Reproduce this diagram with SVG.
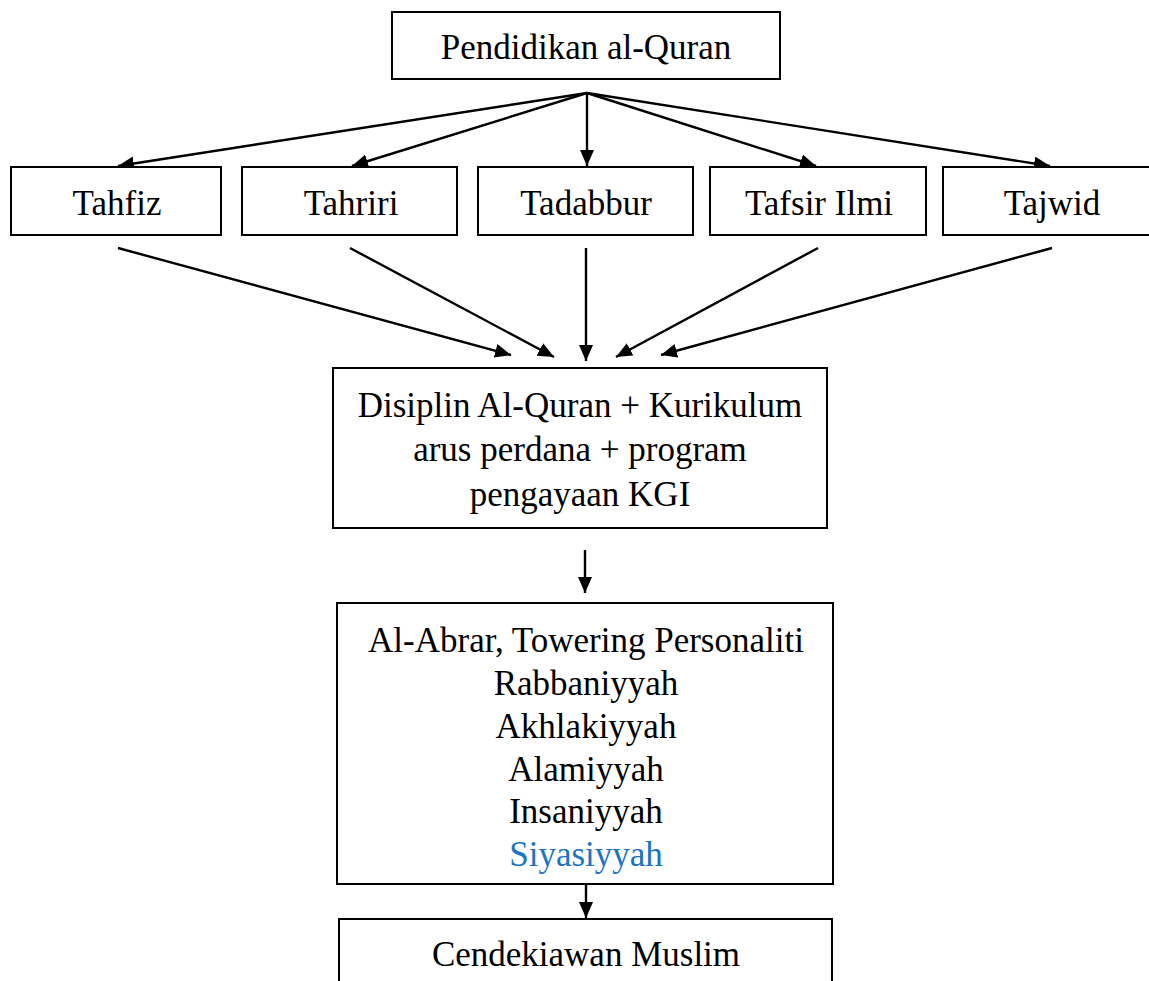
<svg xmlns="http://www.w3.org/2000/svg" width="1149" height="981" viewBox="0 0 1149 981">
<style>
.box{fill:#fff;stroke:#000;stroke-width:2}
.t{font-family:"Liberation Serif","Times New Roman",serif;font-size:35px;fill:#000;text-anchor:middle}
.blue{fill:#1C74C2}
.c{stroke:#000;stroke-width:2.4;fill:none;marker-end:url(#ah)}
</style>
<defs>
<marker id="ah" markerUnits="userSpaceOnUse" markerWidth="17" markerHeight="15" refX="16" refY="7" orient="auto">
<path d="M0,0 L16,7 L0,14 z" fill="#000"/>
</marker>
</defs>
<rect width="1149" height="981" fill="#fff"/>
<g id="connectors">
<line class="c" x1="587" y1="93" x2="118" y2="166"/>
<line class="c" x1="587" y1="93" x2="352" y2="166"/>
<line class="c" x1="587" y1="93" x2="587" y2="166"/>
<line class="c" x1="587" y1="93" x2="816" y2="166"/>
<line class="c" x1="587" y1="93" x2="1050" y2="166"/>
<line class="c" x1="118" y1="248" x2="511" y2="355"/>
<line class="c" x1="350" y1="248" x2="554" y2="357"/>
<line class="c" x1="586" y1="248" x2="586" y2="361"/>
<line class="c" x1="818" y1="248" x2="616" y2="357"/>
<line class="c" x1="1052" y1="248" x2="661" y2="355"/>
<line class="c" x1="585" y1="550" x2="585" y2="593"/>
<line class="c" x1="586" y1="884" x2="586" y2="918"/>
</g>
<g id="n-pendidikan">
<rect class="box" x="392" y="12" width="388" height="67"/>
<text class="t" x="586" y="59">Pendidikan al-Quran</text>
</g>
<g id="n-tahfiz">
<rect class="box" x="11" y="167" width="210" height="68"/>
<text class="t" x="117" y="215">Tahfiz</text>
</g>
<g id="n-tahriri">
<rect class="box" x="242" y="167" width="215" height="68"/>
<text class="t" x="351" y="215">Tahriri</text>
</g>
<g id="n-tadabbur">
<rect class="box" x="478" y="167" width="215" height="68"/>
<text class="t" x="586" y="215">Tadabbur</text>
</g>
<g id="n-tafsir">
<rect class="box" x="710" y="167" width="216" height="68"/>
<text class="t" x="819" y="215">Tafsir Ilmi</text>
</g>
<g id="n-tajwid">
<rect class="box" x="943" y="167" width="230" height="68"/>
<text class="t" x="1052" y="215">Tajwid</text>
</g>
<g id="n-disiplin">
<rect class="box" x="333" y="368" width="494" height="160"/>
<text class="t" x="580" y="417">Disiplin Al-Quran + Kurikulum</text>
<text class="t" x="580" y="461">arus perdana + program</text>
<text class="t" x="580" y="506">pengayaan KGI</text>
</g>
<g id="n-alabrar">
<rect class="box" x="337" y="603" width="496" height="281"/>
<text class="t" x="586" y="652">Al-Abrar, Towering Personaliti</text>
<text class="t" x="586" y="695">Rabbaniyyah</text>
<text class="t" x="586" y="738">Akhlakiyyah</text>
<text class="t" x="586" y="781">Alamiyyah</text>
<text class="t" x="586" y="823">Insaniyyah</text>
<text class="t blue" x="586" y="866">Siyasiyyah</text>
</g>
<g id="n-cendekiawan">
<rect class="box" x="339" y="919" width="493" height="80"/>
<text class="t" x="586" y="966">Cendekiawan Muslim</text>
</g>
</svg>
